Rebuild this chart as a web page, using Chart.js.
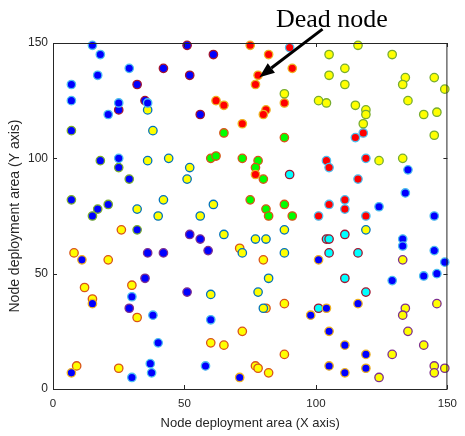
<!DOCTYPE html>
<html>
<head>
<meta charset="utf-8">
<script src="https://cdn.jsdelivr.net/npm/chart.js@4.4.1/dist/chart.umd.min.js"></script>
<style>
  html, body { margin: 0; padding: 0; background: #ffffff; }
  #wrap { width: 465px; height: 436px; }
</style>
</head>
<body>
<div id="wrap"><canvas id="nodeChart" width="465" height="436"></canvas></div>
<script>
// Node positions [x, y], grouped by marker look (fill / edge)
const blueLightNodes = [
  [15, 149], [18, 145], [29, 139], [17, 136], [7, 132], [7, 125], [25, 124], [21, 119], [36, 124], [25, 100],
  [30, 40], [38, 32], [40, 20], [60, 30], [37, 11], [37.5, 7], [30, 5], [58, 10],
  [135, 95], [134, 85], [124, 79], [145, 75], [133, 65], [133, 62], [145, 60], [149, 55], [146, 50], [141, 49], [129, 47]
];
const blueMaroonNodes = [[51, 149], [61, 145], [42, 139], [52, 136], [32, 132], [35, 125], [25, 121], [56, 119]];
const blueOliveNodes = [[7, 112], [18, 99], [25, 96], [29, 91], [7, 82], [17, 78], [21, 80], [15, 75], [32, 69]];
const bluePurpleNodes = [[52, 67], [56, 65], [59, 60], [36, 59], [42, 59], [35, 48], [51, 42], [29, 35]];
const blueOrangeNodes = [
  [11, 56], [15, 37], [7, 7], [71, 5], [101, 56], [98, 32], [104, 35], [116, 37],
  [105, 25], [111, 19], [119, 15], [105, 10], [111, 7], [119, 9]
];
const yellowOliveNodes = [
  [116, 149], [105, 145], [129, 145], [111, 139], [105, 136], [134, 135], [145, 135], [111, 132], [133, 132], [149, 130],
  [101, 125], [104, 124], [135, 125], [115, 123], [119, 121], [119, 119], [118, 115], [146, 120], [141, 119], [145, 110],
  [124, 99], [133, 100], [88, 128]
];
const yellowSteelNodes = [
  [36, 121], [38, 112], [36, 99], [44, 100], [52, 96], [51, 91], [32, 78], [42, 82], [40, 75], [56, 75], [61, 80],
  [65, 67], [77, 65], [81, 65], [88, 69], [72, 59], [88, 59], [82, 48], [78, 42], [60, 41], [80, 35], [119, 69]
];
const yellowOrangeNodes = [
  [26, 69], [8, 59], [21, 56], [12, 44], [15, 39], [30, 45], [32, 31], [60, 20], [65, 19], [72, 25],
  [71, 61], [80, 56], [81, 35], [88, 37], [88, 15], [77, 10], [78, 9], [82, 7], [9, 10], [25, 9]
];
const yellowPurpleNodes = [
  [133, 56], [134, 35], [133, 32], [146, 37], [135, 25], [141, 19], [129, 15], [124, 5], [145, 10], [145, 7], [149, 9]
];
const redOrangeNodes = [
  [75, 149], [82, 145], [91, 139], [78, 136], [77, 132], [62, 125], [65, 123], [72, 115], [81, 121], [80, 119], [88, 124], [77, 93]
];
const redLightNodes = [
  [90, 148], [115, 109], [118, 111], [104, 99], [105, 96], [119, 100], [116, 91], [105, 80], [111, 82], [111, 78], [101, 75], [119, 75]
];
const greenOrangeNodes = [
  [65, 111], [88, 109], [60, 100], [62, 101], [72, 100], [78, 99], [77, 96], [80, 91], [75, 82], [81, 78], [82, 75], [88, 80], [91, 75]
];
const cyanMaroonNodes = [[90, 93], [104, 65], [105, 65], [111, 67], [105, 59], [116, 59], [111, 48], [119, 42], [101, 35]];

const axisTicks = [0, 50, 100, 150];
const xTitle = 'Node deployment area (X axis)';
const yTitle = 'Node deployment area (Y axis)';
const deadLabel = 'Dead node';
const deadArrowTip = [78.5, 135.2];
const deadArrowTail = [102.5, 156];

const NodeChart = {
  chart: null,

  init() {
    this.render();
  },

  buildDatasets() {
    const groups = [
      { nodes: blueLightNodes, fill: '#0000ff', edge: '#4dbeee' },
      { nodes: blueMaroonNodes, fill: '#0000ff', edge: '#a2142f' },
      { nodes: blueOliveNodes, fill: '#0000ff', edge: '#77ac30' },
      { nodes: bluePurpleNodes, fill: '#0000ff', edge: '#7e2f8e' },
      { nodes: blueOrangeNodes, fill: '#0000ff', edge: '#edb120' },
      { nodes: yellowOliveNodes, fill: '#ffff00', edge: '#77ac30' },
      { nodes: yellowSteelNodes, fill: '#ffff00', edge: '#0072bd' },
      { nodes: yellowOrangeNodes, fill: '#ffff00', edge: '#d95319' },
      { nodes: yellowPurpleNodes, fill: '#ffff00', edge: '#7e2f8e' },
      { nodes: redOrangeNodes, fill: '#ff0000', edge: '#edb120' },
      { nodes: redLightNodes, fill: '#ff0000', edge: '#4dbeee' },
      { nodes: greenOrangeNodes, fill: '#00ff00', edge: '#d95319' },
      { nodes: cyanMaroonNodes, fill: '#00ffff', edge: '#a2142f' }
    ];
    return groups.map(g => ({
      data: g.nodes.map(([x, y]) => ({ x, y })),
      backgroundColor: g.fill,
      borderColor: g.edge,
      borderWidth: 1.3,
      pointRadius: 4.2,
      pointHoverRadius: 4.2,
      clip: false
    }));
  },

  // MATLAB style box with inward ticks, plus the "Dead node" callout
  framePlugin: {
    id: 'frame',
    afterDatasetsDraw(chart) {
      const { ctx, chartArea: a, scales: { x, y } } = chart;
      ctx.save();
      ctx.strokeStyle = '#262626';
      ctx.lineWidth = 1;
      ctx.beginPath();
      ctx.rect(a.left + 0.5, a.top + 0.5, a.right - a.left - 1, a.bottom - a.top);
      axisTicks.forEach(v => {
        const px = Math.round(x.getPixelForValue(v)) + 0.5;
        ctx.moveTo(px, a.bottom); ctx.lineTo(px, a.bottom - 4);
        ctx.moveTo(px, a.top); ctx.lineTo(px, a.top + 4);
        const py = Math.round(y.getPixelForValue(v)) + 0.5;
        ctx.moveTo(a.left, py); ctx.lineTo(a.left + 4, py);
        ctx.moveTo(a.right, py); ctx.lineTo(a.right - 4, py);
      });
      ctx.stroke();

      const tipX = x.getPixelForValue(deadArrowTip[0]);
      const tipY = y.getPixelForValue(deadArrowTip[1]);
      const tailX = x.getPixelForValue(deadArrowTail[0]);
      const tailY = y.getPixelForValue(deadArrowTail[1]);
      const ang = Math.atan2(tipY - tailY, tipX - tailX);
      const headLen = 15, headW = 6;
      const baseX = tipX - headLen * Math.cos(ang);
      const baseY = tipY - headLen * Math.sin(ang);

      ctx.strokeStyle = '#000000';
      ctx.fillStyle = '#000000';
      ctx.lineWidth = 3;
      ctx.beginPath();
      ctx.moveTo(tailX, tailY);
      ctx.lineTo(baseX, baseY);
      ctx.stroke();
      ctx.beginPath();
      ctx.moveTo(tipX, tipY);
      ctx.lineTo(baseX + headW * Math.sin(ang), baseY - headW * Math.cos(ang));
      ctx.lineTo(baseX - headW * Math.sin(ang), baseY + headW * Math.cos(ang));
      ctx.closePath();
      ctx.fill();

      ctx.font = '26px "Liberation Serif", "Times New Roman", serif';
      ctx.textAlign = 'left';
      ctx.textBaseline = 'alphabetic';
      ctx.fillText(deadLabel, 276, 27);
      ctx.restore();
    }
  },

  render() {
    const ctx = document.getElementById('nodeChart');
    if (!ctx) return;

    const tickFont = { family: '"Liberation Sans", Arial, sans-serif', size: 12 };

    this.chart = new Chart(ctx, {
      type: 'scatter',
      data: { datasets: this.buildDatasets() },
      plugins: [this.framePlugin],
      options: {
        responsive: false,
        animation: false,
        events: [],
        layout: { padding: { left: 0, top: 43, right: 11, bottom: 0 } },
        plugins: {
          legend: { display: false },
          tooltip: { enabled: false }
        },
        scales: {
          x: {
            min: 0,
            max: 150,
            afterFit: s => { s.height = 47; },
            afterBuildTicks: s => { s.ticks = axisTicks.map(v => ({ value: v })); },
            grid: { display: false, drawTicks: false },
            border: { display: false },
            ticks: { color: '#262626', font: { ...tickFont, size: 11.5 }, padding: 8, maxRotation: 0 },
            title: {
              display: true,
              text: xTitle,
              color: '#262626',
              font: { family: '"Liberation Sans", Arial, sans-serif', size: 13 },
              padding: { top: 0, bottom: 5 }
            }
          },
          y: {
            min: 0,
            max: 150,
            afterFit: s => { s.width = 53; },
            afterBuildTicks: s => { s.ticks = axisTicks.map(v => ({ value: v })); },
            grid: { display: false, drawTicks: false },
            border: { display: false },
            ticks: { color: '#262626', font: tickFont, padding: 5 },
            title: {
              display: true,
              text: yTitle,
              color: '#262626',
              font: { family: '"Liberation Sans", Arial, sans-serif', size: 14 },
              padding: { top: 7, bottom: 0 }
            }
          }
        }
      }
    });
  }
};

NodeChart.init();
</script>
</body>
</html>
